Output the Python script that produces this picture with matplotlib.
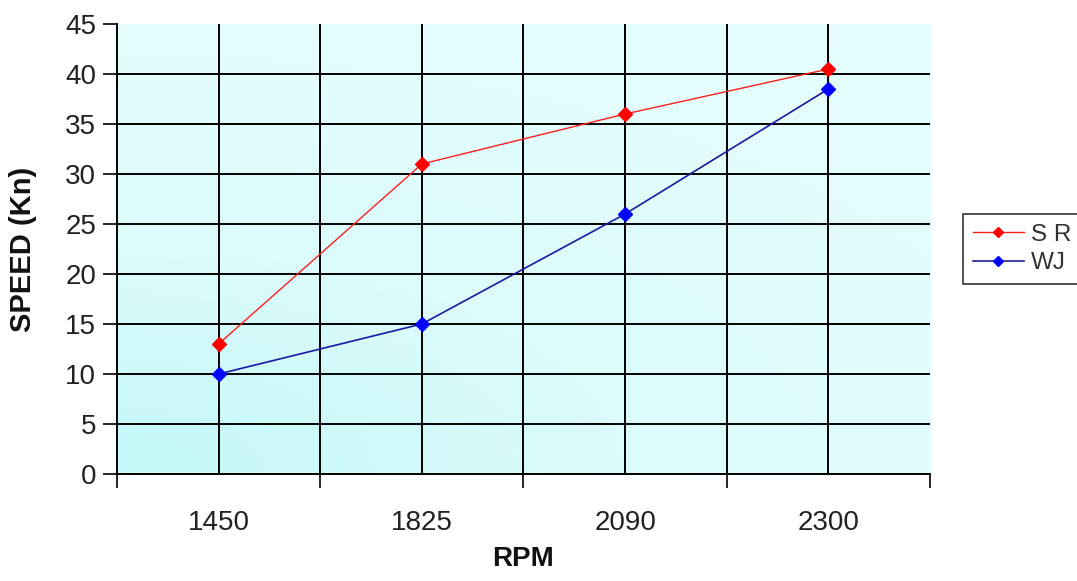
import numpy as np
from matplotlib import pyplot as plt
from matplotlib.colors import LinearSegmentedColormap

# RPM categories and measured speeds (knots)
rpm = ['1450', '1825', '2090', '2300']
speed_sr = [13, 31, 36, 40.5]
speed_wj = [10, 15, 26, 38.5]
y_ticks = [0, 5, 10, 15, 20, 25, 30, 35, 40, 45]

plt.rcParams['font.family'] = ['Liberation Sans', 'DejaVu Sans']

fig = plt.figure(figsize=(10.77, 5.81), dpi=100)
ax = fig.add_axes([0.1086, 0.1842, 0.7549, 0.7745])

x = np.arange(len(rpm))

# diagonal cyan gradient, strongest at the bottom-left corner
gx, gy = np.meshgrid(np.linspace(0, 1, 200), np.linspace(0, 1, 200))
g = np.clip(np.hypot(gx * 0.8, gy) / 1.0, 0, 1)
cmap = LinearSegmentedColormap.from_list('bg', ['#c4f8f9', '#dcfbfb', '#e4fdfd'])
ax.imshow(g, cmap=cmap, extent=[0, 1, 0, 1], origin='lower', aspect='auto',
          transform=ax.transAxes, zorder=0)

ax.plot(x, speed_sr, color='#ff2020', lw=1, marker='D', ms=7,
        markerfacecolor='#ff0000', markeredgecolor='#ff0000', label='S R', zorder=3)
ax.plot(x, speed_wj, color='#1a1aa0', lw=1.2, marker='D', ms=7,
        markerfacecolor='#0000ff', markeredgecolor='#0000ff', label='WJ', zorder=3)

ax.set_xlim(-0.5, len(rpm) - 0.5)
ax.set_ylim(0, 45)
ax.set_yticks(y_ticks)
ax.set_xticks(x)
ax.set_xticklabels(rpm)
ax.set_xticks(np.arange(len(rpm) + 1) - 0.5, minor=True)

ax.tick_params(axis='x', which='major', length=0, pad=26, labelsize=20, labelcolor='#222222')
ax.tick_params(axis='x', which='minor', length=10, width=1.2, direction='out')
ax.tick_params(axis='y', length=10, width=1.2, labelsize=20, labelcolor='#222222', pad=5)

ax.grid(True, which='both', color='black', lw=1.4, zorder=1)
ax.set_axisbelow(False)
ax.xaxis.get_minor_ticks()[-1].gridline.set_visible(False)
ax.xaxis.get_minor_ticks()[0].gridline.set_visible(False)
ax.yaxis.get_major_ticks()[-1].gridline.set_visible(False)
ax.yaxis.get_major_ticks()[0].gridline.set_visible(False)
for gl in ax.get_xgridlines() + ax.get_ygridlines():
    gl.set_zorder(1)

for side in ['top', 'right']:
    ax.spines[side].set_visible(False)
for side in ['left', 'bottom']:
    ax.spines[side].set_linewidth(1.4)
    ax.spines[side].set_zorder(2)

ax.set_xlabel('RPM', fontsize=20, fontweight='bold', labelpad=7, color='#111111')
ax.set_ylabel('SPEED (Kn)', fontsize=21, fontweight='bold', labelpad=20, color='#111111')

leg = ax.legend(loc='center left', bbox_to_anchor=(1.0406, 0.5), borderaxespad=0,
                fontsize=17.5, frameon=True, fancybox=False, edgecolor='black',
                handlelength=2.1, borderpad=0.4, labelspacing=0.25, handletextpad=0.3,
                markerscale=0.8)
leg.get_frame().set_linewidth(1.2)
for t in leg.get_texts():
    t.set_color('#333333')

plt.savefig('out.png', dpi=100)
